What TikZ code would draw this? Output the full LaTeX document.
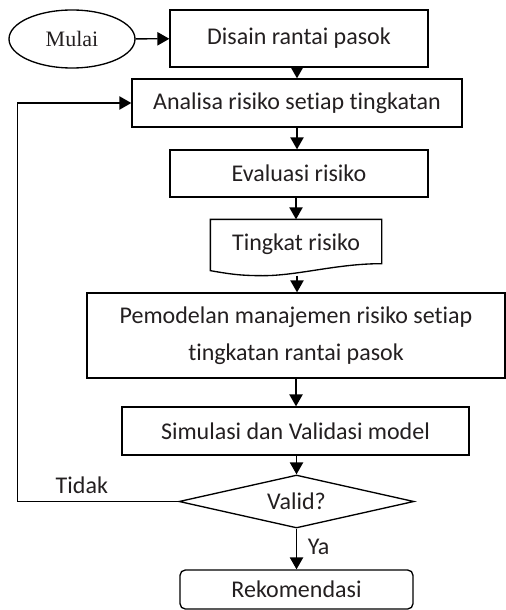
\documentclass[tikz,border=0pt]{standalone}
\usepackage{fontspec}
\setmainfont{Carlito}[Ligatures=NoCommon]
\newfontfamily\timesfont{Liberation Serif}
\usetikzlibrary{arrows.meta,calc,shapes.geometric}
\definecolor{ink}{HTML}{231F20}

\begin{document}
\begin{tikzpicture}[x=0.75pt,y=-0.75pt,>={Triangle[length=9pt,width=10pt]},
  line width=1pt,font=\fontsize{18}{28}\selectfont,text=ink,
  box/.style={draw,rectangle,inner sep=2pt,align=center},
  arr/.style={->,line width=1pt},
  lbl/.style={inner sep=2pt}]
\useasboundingbox (0,0) rectangle (506,610);

% ---------------- nodes, top to bottom
\node[draw,ellipse,inner sep=0pt,minimum width=94.5pt,minimum height=43.5pt,
      font=\timesfont\fontsize{16.5}{18}\selectfont] (mulai) at (72,39) {Mulai};
\node[box,minimum width=193.5pt,minimum height=42.75pt] (disain) at (299,38.5) {Disain rantai pasok};
\node[box,minimum width=247.5pt,minimum height=36pt] (analisa) at (297,103) {Analisa risiko setiap tingkatan};
\node[box,minimum width=193.5pt,minimum height=35.25pt] (evaluasi) at (299,173.5) {Evaluasi risiko};
\node[inner sep=2pt,minimum width=127.5pt,minimum height=36pt] (tingkat) at (296,244) {Tingkat risiko};
\node[box,minimum width=313.5pt,minimum height=63.75pt] (model) at (296,335.5)
  {Pemodelan manajemen risiko setiap\\tingkatan rantai pasok};
\node[box,minimum width=260.25pt,minimum height=36pt] (simulasi) at (295.5,431) {Simulasi dan Validasi model};
\node[draw,diamond,inner sep=0pt,aspect=4.4,minimum width=176.25pt,minimum height=39.75pt] (valid) at (296.5,501.5) {Valid?};
\node[box,rounded corners=4pt,minimum width=174.75pt,minimum height=29.25pt] (reko) at (296.5,589.5) {Rekomendasi};

% document outline of "Tingkat risiko"
\draw (tingkat.south west) -- (tingkat.north west) -- (tingkat.north east)
  -- ($(tingkat.south east)+(0,-5)$)
  .. controls +(-45,0) and +(35,0) .. ($(tingkat.south)+(-33,7)$)
  .. controls +(-25,0) and +(18,3) .. ($(tingkat.south west)+(0,2)$) -- cycle;
\coordinate (tingkatb) at ($(tingkat.south)+(1,7)$);
\coordinate (loop) at (17.5,501.5);

% ---------------- connectors
\draw[arr] (mulai) -- (disain);
\draw[arr] (disain.south -| analisa.north) -- (analisa);
\draw[arr] (analisa) -- (analisa.south |- evaluasi.north);
\draw[arr] (evaluasi.south -| tingkat.north) -- (tingkat);
\draw[arr] (tingkatb) -- (tingkatb |- model.north);
\draw[arr] (model) -- (model.south |- simulasi.north);
\draw[arr] (valid.north |- simulasi.south) -- (valid);
\draw[arr] (valid) -- node[lbl,pos=.45,right=6pt] {Ya} (reko);
\draw[arr] (valid.west) -- node[lbl,pos=.6,above=3pt] {Tidak} (loop) |- (analisa.west);
\end{tikzpicture}
\end{document}
